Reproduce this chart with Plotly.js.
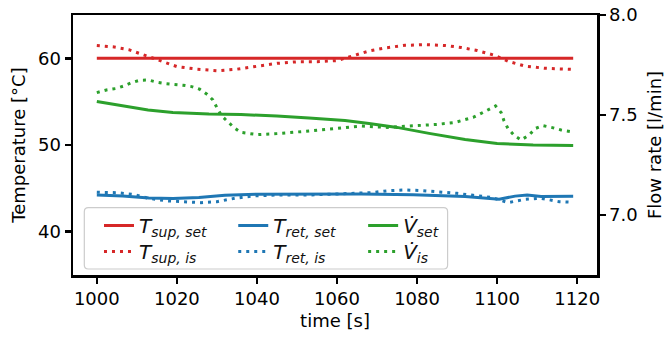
<!DOCTYPE html>
<html><head><meta charset="utf-8">
<script src="https://cdn.plot.ly/plotly-3.0.1.min.js"></script>
<style>html,body{margin:0;padding:0;background:#fff}</style>
</head><body><div id="chart" style="width:667px;height:337px"></div>
<script>
// ---- data ----
const tSupSet = [1000, 1119];
const supSet  = [60, 60];

const tSupIs = [1000,1004,1008,1012,1016,1020,1025,1030,1035,1040,1045,1050,1055,1060,1064,1068,1072,1077,1082,1087,1091,1095,1099,1103,1107,1112,1119];
const supIs  = [61.48,61.33,61.0,60.37,59.65,59.05,58.75,58.57,58.75,59.07,59.42,59.6,59.62,59.74,60.25,60.85,61.2,61.5,61.58,61.48,61.25,60.9,60.4,59.62,59.1,58.85,58.72];

const tRetSet = [1000,1006.5,1013,1019,1025.5,1032,1040,1053,1066,1079,1092,1100.5,1104.5,1107.5,1111,1119];
const retSet  = [44.23,44.12,43.88,43.82,43.93,44.2,44.33,44.35,44.35,44.27,44.05,43.75,44.1,44.22,44.05,44.08];

const tRetIs = [1000,1005,1009,1013,1017.5,1022,1026,1030,1034.5,1039,1045,1053,1062,1068.5,1073,1077,1081.5,1085.5,1090,1094,1098.5,1102.7,1107,1111,1115.5,1119];
const retIs  = [44.55,44.5,44.3,43.85,43.55,43.42,43.35,43.46,43.85,44.12,44.23,44.23,44.35,44.5,44.73,44.81,44.73,44.62,44.42,44.19,43.96,43.35,43.73,43.85,43.46,43.39];

const tVSet = [1000,1006.5,1012.8,1019,1028,1036,1045,1053,1062,1068,1075,1083,1092,1100,1109,1119];
const vSet  = [7.567,7.545,7.525,7.513,7.505,7.502,7.495,7.485,7.472,7.458,7.438,7.408,7.378,7.358,7.35,7.347];

const tVIs = [1000,1002.4,1004.7,1006.7,1008.7,1010.8,1012.9,1015,1017.2,1019.3,1021.5,1023.7,1025.7,1027.6,1029,1030,1031.2,1032.7,1034.2,1036,1040,1045,1049,1053,1060,1066,1072.5,1079,1085,1089.5,1094,1096,1098,1099.6,1101,1101.7,1102.7,1104.3,1106,1108,1109.6,1111.4,1113.8,1116,1119];
const vIs  = [7.612,7.625,7.632,7.645,7.662,7.674,7.675,7.664,7.657,7.654,7.649,7.642,7.629,7.603,7.575,7.537,7.495,7.467,7.438,7.413,7.402,7.407,7.412,7.42,7.433,7.445,7.438,7.445,7.453,7.463,7.488,7.508,7.528,7.545,7.512,7.472,7.433,7.397,7.375,7.4,7.433,7.447,7.437,7.425,7.415];

const xTicks = [1000,1020,1040,1060,1080,1100,1120];
const yTicks = [40,50,60];
const y2Ticks = [7.0,7.5,8.0];

const names = {
  supSet: '<i>T</i><sub><i>sup, set</i></sub>',
  supIs:  '<i>T</i><sub><i>sup, is</i></sub>',
  retSet: '<i>T</i><sub><i>ret, set</i></sub>',
  retIs:  '<i>T</i><sub><i>ret, is</i></sub>',
  vSet:   '<i>V\u0307</i><sub><i>set</i></sub>',
  vIs:    '<i>V\u0307</i><sub><i>is</i></sub>'
};

const RED = '#d62728', BLUE = '#1f77b4', GREEN = '#2ca02c';
const LW = 3;
const DOT = '3px,5px';

const traces = [
  {x: tSupSet, y: supSet, name: names.supSet, legend: 'legend', line: {color: RED, width: LW}},
  {x: tSupIs, y: supIs, name: names.supIs, legend: 'legend4', line: {color: RED, width: LW, dash: DOT}},
  {x: tRetSet, y: retSet, name: names.retSet, legend: 'legend2', line: {color: BLUE, width: LW}},
  {x: tRetIs, y: retIs, name: names.retIs, legend: 'legend5', line: {color: BLUE, width: LW, dash: DOT}},
  {x: tVSet, y: vSet, name: names.vSet, legend: 'legend3', yaxis: 'y2', line: {color: GREEN, width: LW}},
  {x: tVIs, y: vIs, name: names.vIs, legend: 'legend6', yaxis: 'y2', line: {color: GREEN, width: LW, dash: DOT}}
].map(t => Object.assign({type: 'scatter', mode: 'lines', hoverinfo: 'skip'}, t));

const FONT = {family: 'DejaVu Sans', size: 18, color: '#000'};
const LFONT = {family: 'DejaVu Sans', size: 20, color: '#111'};
const legendBase = {
  yanchor: 'top', xanchor: 'left',
  bgcolor: 'rgba(0,0,0,0)', borderwidth: 0,
  font: LFONT, orientation: 'v', traceorder: 'normal'
};
const colX = [0.0496, 0.3058, 0.5537];
const rowY = [0.2654, 0.1654];

// legend frame (rounded box) in paper coordinates
const bx0 = 0.0216, bx1 = 0.7149, by0 = 0.0231, by1 = 0.2588, rx = 0.0076, ry = 0.0154;
const framePath = `M${bx0+rx},${by0} L${bx1-rx},${by0} Q${bx1},${by0} ${bx1},${by0+ry} L${bx1},${by1-ry} Q${bx1},${by1} ${bx1-rx},${by1} L${bx0+rx},${by1} Q${bx0},${by1} ${bx0},${by1-ry} L${bx0},${by0+ry} Q${bx0},${by0} ${bx0+rx},${by0} Z`;

const axisCommon = {
  showline: true, linecolor: '#000', linewidth: 2.5,
  ticks: 'outside', ticklen: 6, tickwidth: 2.5, tickcolor: '#000',
  showgrid: false, zeroline: false, tickfont: FONT
};

const layout = {
  width: 667, height: 337,
  margin: {l: 73, r: 70, t: 15, b: 62, autoexpand: false},
  paper_bgcolor: '#fff', plot_bgcolor: '#fff',
  font: FONT,
  showlegend: true,
  xaxis: Object.assign({}, axisCommon, {
    range: [994.05, 1124.95], tickvals: xTicks, mirror: true,
    title: {text: 'time [s]', font: FONT, standoff: 7}
  }),
  yaxis: Object.assign({}, axisCommon, {
    range: [35, 65], tickvals: yTicks,
    title: {text: 'Temperature [°C]', font: FONT, standoff: 8}
  }),
  yaxis2: Object.assign({}, axisCommon, {
    range: [6.7, 8.0], tickvals: y2Ticks, tickformat: '.1f',
    overlaying: 'y', side: 'right',
    title: {text: 'Flow rate [l/min]', font: FONT, standoff: 12}
  }),
  legend:  Object.assign({}, legendBase, {x: colX[0], y: rowY[0]}),
  legend2: Object.assign({}, legendBase, {x: colX[1], y: rowY[0]}),
  legend3: Object.assign({}, legendBase, {x: colX[2], y: rowY[0]}),
  legend4: Object.assign({}, legendBase, {x: colX[0], y: rowY[1]}),
  legend5: Object.assign({}, legendBase, {x: colX[1], y: rowY[1]}),
  legend6: Object.assign({}, legendBase, {x: colX[2], y: rowY[1]}),
  shapes: [{
    type: 'path', xref: 'paper', yref: 'paper', layer: 'above',
    path: framePath, fillcolor: 'rgba(255,255,255,0.8)',
    line: {color: '#cccccc', width: 1.2}
  }]
};

Plotly.newPlot('chart', traces, layout, {staticPlot: true, displayModeBar: false});
</script>
</body></html>
